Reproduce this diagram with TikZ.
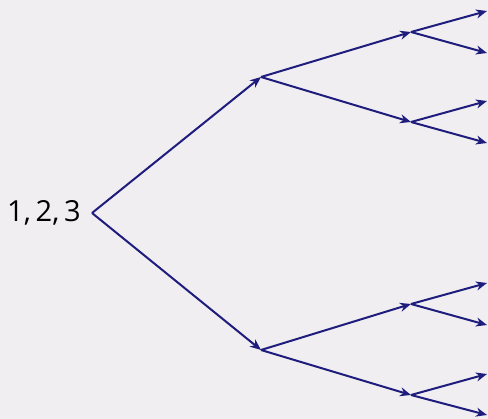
\documentclass[tikz,border=0pt]{standalone}
\usepackage{fontspec}
\setmainfont{Open Sans}
\usetikzlibrary{arrows.meta}
\definecolor{treeblue}{RGB}{30,28,125}
\definecolor{bgpaper}{RGB}{240,238,240}

\begin{document}
\begin{tikzpicture}[x=1pt, y=-1pt,
    branch/.style={-{Stealth[length=11pt, width=9pt, inset=3.5pt]}, line width=2pt, draw=treeblue}]
    % Background
    \fill[bgpaper] (0,0) rectangle (488,419);
    \useasboundingbox (0,0) rectangle (488,419);

    % Points of the tree
    \coordinate (r) at (92,213);
    \coordinate (a) at (261,77);
    \coordinate (b) at (261,350);
    \coordinate (aa) at (411,32);
    \coordinate (ab) at (411,122);
    \coordinate (ba) at (411,304);
    \coordinate (bb) at (411,395);
    \coordinate (aaa) at (487,11);
    \coordinate (aab) at (487,53);
    \coordinate (aba) at (487,101);
    \coordinate (abb) at (487,143);
    \coordinate (baa) at (487,283);
    \coordinate (bab) at (487,325);
    \coordinate (bba) at (487,374);
    \coordinate (bbb) at (487,415);

    % Root label
    \node[anchor=base east, inner sep=0pt, font=\fontsize{29}{32}\selectfont] (lbl) at (81,222) {1,\,2,\,3};

    % Branches
    \draw[branch] (r) -- (a);
    \draw[branch] (r) -- (b);
    \draw[branch] (a) -- (aa);
    \draw[branch] (a) -- (ab);
    \draw[branch] (b) -- (ba);
    \draw[branch] (b) -- (bb);
    \draw[branch] (aa) -- (aaa);
    \draw[branch] (aa) -- (aab);
    \draw[branch] (ab) -- (aba);
    \draw[branch] (ab) -- (abb);
    \draw[branch] (ba) -- (baa);
    \draw[branch] (ba) -- (bab);
    \draw[branch] (bb) -- (bba);
    \draw[branch] (bb) -- (bbb);
\end{tikzpicture}
\end{document}
